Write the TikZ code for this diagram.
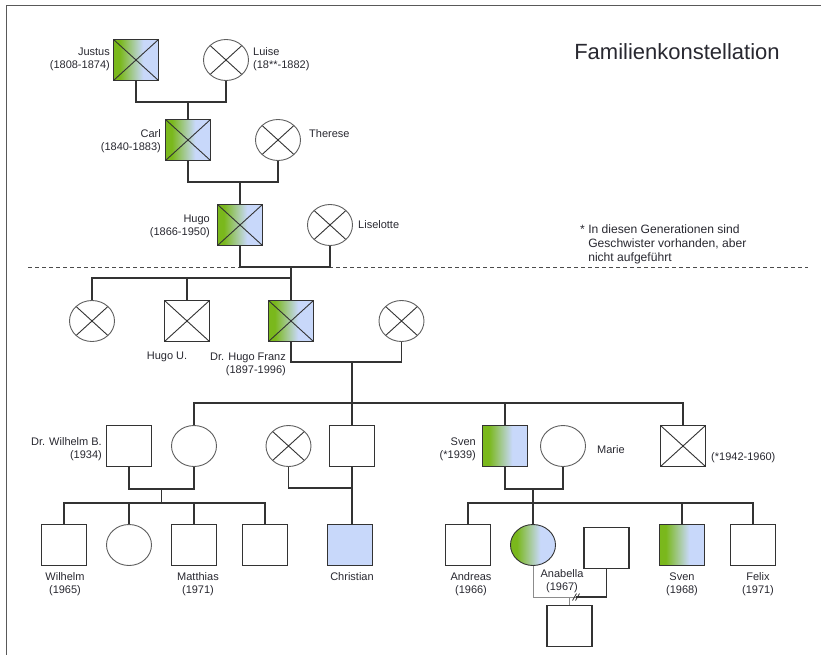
\documentclass[tikz,border=0pt]{standalone}
\usepackage{fontspec}
\setmainfont{Liberation Sans}
\usetikzlibrary{shapes.geometric,calc}
\definecolor{gg}{RGB}{122,184,28}
\definecolor{bb}{RGB}{200,216,250}
\definecolor{lc}{RGB}{51,51,51}
\definecolor{cc}{RGB}{95,95,95}
\definecolor{tc}{RGB}{40,40,48}
\pgfdeclarehorizontalshading{genog}{100bp}{color(0bp)=(gg); color(25bp)=(gg); color(32bp)=(gg); color(58bp)=(bb); color(75bp)=(bb); color(100bp)=(bb)}
\tikzset{
  sq/.style={rectangle, draw=lc, line width=1.3pt, minimum width=45pt, minimum height=41pt, inner sep=0pt, fill=white},
  ci/.style={ellipse, draw=cc, line width=0.9pt, minimum width=45pt, minimum height=41pt, inner sep=0pt, fill=white},
  grad/.style={shading=genog},
  xl/.style={draw=lc, line width=0.9pt},
  xsq/.style={path picture={\draw[xl] (path picture bounding box.north west) -- (path picture bounding box.south east) (path picture bounding box.north east) -- (path picture bounding box.south west);}},
  xci/.style={path picture={\draw[xl] ($(path picture bounding box.center)!0.707!(path picture bounding box.north west)$) -- ($(path picture bounding box.center)!0.707!(path picture bounding box.south east)$) ($(path picture bounding box.center)!0.707!(path picture bounding box.north east)$) -- ($(path picture bounding box.center)!0.707!(path picture bounding box.south west)$);}},
  conn/.style={draw=lc, line width=1.3pt},
  lconn/.style={draw=black!45, line width=1pt},
  lbl/.style={font=\fontsize{11}{12.8}\selectfont, text=tc, inner sep=0pt},
}
\begin{document}
\begin{tikzpicture}[x=1pt,y=-1pt]
\useasboundingbox (0,0) rectangle (821,655);
% frame
\draw[draw=black!65, line width=1.4pt] (6.5,655) -- (6.5,5.5) -- (821,5.5);
% title
\node[lbl, font=\fontsize{22}{26}\selectfont] (title) at (677,52) {Familienkonstellation};
% generation 1
\node[sq, grad, xsq] (justus) at (136,60) {};
\node[ci, xci] (luise) at (226,60) {};
\node[lbl, anchor=east, align=right] (ljustus) at (110,59) {Justus\\(1808-1874)};
\node[lbl, anchor=west, align=left] (lluise) at (253,59) {Luise\\(18**-1882)};
% generation 2
\node[sq, grad, xsq] (carl) at (188,140) {};
\node[ci, xci] (therese) at (278,140) {};
\node[lbl, anchor=east, align=right] (lcarl) at (161,141) {Carl\\(1840-1883)};
\node[lbl, anchor=west] (ltherese) at (309,134) {Therese};
\coordinate (m1) at (188,102);
\draw[conn] (justus.south) |- (m1) -| (luise.south);
\draw[conn] (m1) -- (carl.north);
% generation 3
\node[sq, grad, xsq] (hugo) at (240,225) {};
\node[ci, xci] (liselotte) at (330,225) {};
\node[lbl, anchor=east, align=right] (lhugo) at (210,226) {Hugo\\(1866-1950)};
\node[lbl, anchor=west] (lliselotte) at (358,225) {Liselotte};
\coordinate (m2) at (240,182);
\draw[conn] (carl.south) |- (m2) -| (therese.south);
\draw[conn] (m2) -- (hugo.north);
% footnote
\node[lbl, font=\fontsize{12.1}{14}\selectfont, anchor=north west, align=left] (note) at (580,225) {*~In diesen Generationen sind\\\hphantom{*~}Geschwister vorhanden, aber\\\hphantom{*~}nicht aufgeführt};
% dashed separator
\draw[draw=black!70, line width=0.8pt, dash pattern=on 4pt off 3pt] (28,267.5) -- (808,267.5);
% generation 4
\node[ci, xci] (sib1) at (92,321) {};
\node[sq, xsq] (hugou) at (187,321) {};
\node[sq, grad, xsq] (franz) at (291,321) {};
\node[ci, xci] (wife) at (401.5,321) {};
\node[lbl] (lhugou) at (167,357) {Hugo U.};
\node[lbl, anchor=east, align=right] (lfranz) at (286,364.5) {Dr. Hugo Franz\\(1897-1996)};
\coordinate (m3) at (291,267);
\coordinate (s4) at (291,278);
\draw[conn] (hugo.south) |- (m3) -| (liselotte.south);
\draw[conn] (m3) -- (franz.north);
\draw[conn] (s4) -| (sib1.north);
\draw[conn] (s4) -| (hugou.north);
% generation 5
\coordinate (m4) at (352,362);
\draw[conn] (franz.south) |- (m4) -| (wife.south);
\node[sq] (wilhelmb) at (129,446) {};
\node[ci] (daughter) at (194,446) {};
\node[ci, xci] (xcirc) at (288.5,446) {};
\node[sq] (son2) at (352,446) {};
\node[sq, grad] (sven) at (505,446) {};
\node[ci] (marie) at (563,446) {};
\node[sq, xsq] (xsquare) at (683,446) {};
\node[lbl, anchor=east, align=right] (lwilhelmb) at (102,449) {Dr. Wilhelm B.\\(1934)};
\node[lbl, anchor=east, align=right] (lsven) at (476,449) {Sven\\(*1939)};
\node[lbl, anchor=west] (lmarie) at (597,450) {Marie};
\node[lbl, anchor=west] (lxsquare) at (711,458) {(*1942-1960)};
\coordinate (s5a) at (194,403);
\coordinate (s5b) at (683,403);
\draw[conn] (m4) -- (son2.north);
\draw[conn] (daughter.north) |- (s5b) -- (xsquare.north);
\draw[conn] (sven.north) -- (sven.north |- s5b);
% couples of generation 5
\coordinate (m5) at (161.5,489);
\draw[conn] (wilhelmb.south) |- (m5) -| (daughter.south);
\coordinate (m6) at (352,488);
\draw[conn] (xcirc.south) |- (m6);
\coordinate (m7) at (533,489);
\draw[conn] (sven.south) |- (m7) -| (marie.south);
% generation 6
\node[sq] (wilhelm) at (64,545) {};
\node[ci] (circ6) at (129,545) {};
\node[sq] (matthias) at (194,545) {};
\node[sq] (sq6) at (265,545) {};
\node[sq, fill=bb] (christian) at (350,545) {};
\node[sq] (andreas) at (468,545) {};
\node[ci, grad, draw=lc] (anabella) at (533,545) {};
\node[sq] (partner) at (606.5,548) {};
\node[sq, grad] (sven2) at (682,545) {};
\node[sq] (felix) at (753,545) {};
\node[sq] (child) at (569.5,626) {};
\node[lbl, align=center] (lwilhelm) at (65,584) {Wilhelm\\(1965)};
\node[lbl, align=center] (lmatthias) at (198,584) {Matthias\\(1971)};
\node[lbl] (lchristian) at (352,577) {Christian};
\node[lbl, align=center] (landreas) at (471,584) {Andreas\\(1966)};
\node[lbl, align=center] (lanabella) at (562,581) {Anabella\\(1967)};
\node[lbl, align=center] (lsven2) at (682,584) {Sven\\(1968)};
\node[lbl, align=center] (lfelix) at (758,584) {Felix\\(1971)};
\coordinate (s6a) at (161.5,503);
\coordinate (s6b) at (533,503);
\draw[conn] (m5) -- (s6a);
\draw[conn] (wilhelm.north) |- (sq6.north |- s6a) -- (sq6.north);
\draw[conn] (circ6.north) -- (circ6.north |- s6a);
\draw[conn] (matthias.north) -- (matthias.north |- s6a);
\draw[conn] (son2.south) -- (son2.south |- christian.north);
\draw[conn] (m7) -- (anabella.north);
\draw[conn] (andreas.north) |- (felix.north |- s6b) -- (felix.north);
\draw[conn] (sven2.north) -- (sven2.north |- s6b);
% Anabella and partner
\coordinate (m8) at (569.5,597);
\coordinate (sep) at (576,597);
\draw[lconn] (anabella.south) |- (sep);
\draw[conn] (sep) -| (partner.south);
\draw[lconn] (m8) -- (child.north);
\draw[draw=lc, line width=0.8pt] (572.5,600.5) -- (576.5,593.5) (575.5,600.5) -- (579.5,593.5);
\end{tikzpicture}
\end{document}
